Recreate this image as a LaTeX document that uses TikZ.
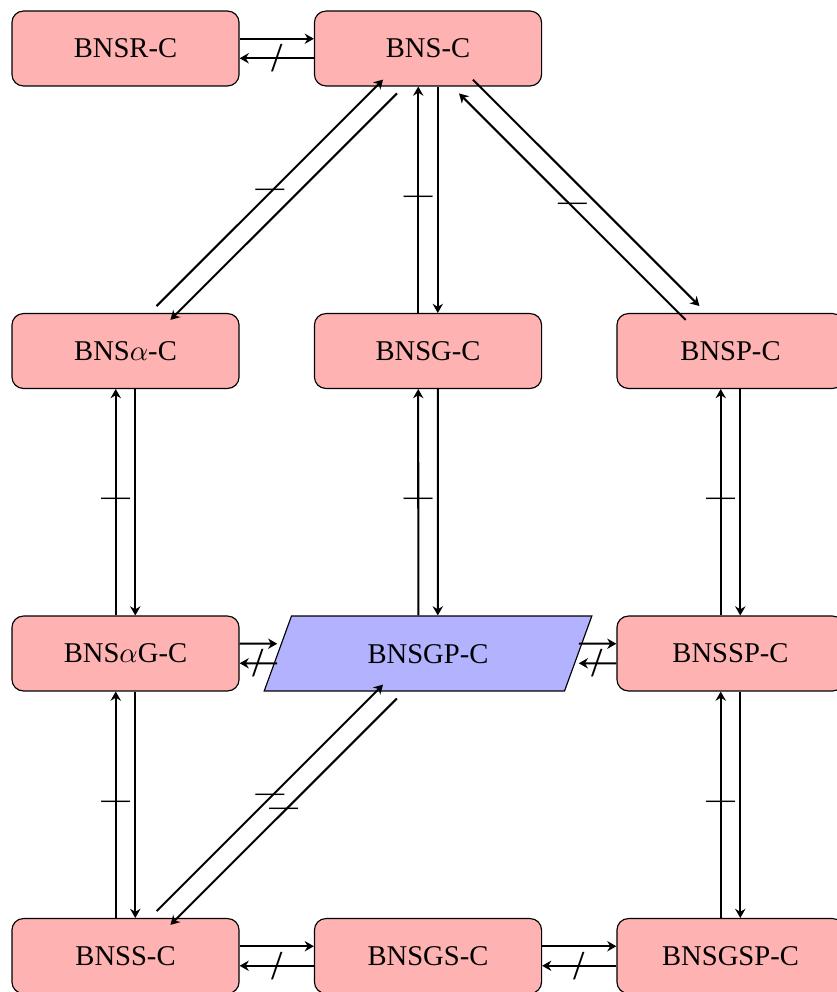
\documentclass[tikz,border=0pt]{standalone}
\usepackage{fontspec}
\setmainfont{Liberation Serif}
\usetikzlibrary{arrows.meta,shapes.geometric}
\tikzset{
  cls/.style  ={rectangle,rounded corners,draw=black,fill=red!30,
                minimum width=2.79cm,minimum height=0.92cm,inner sep=2pt},
  clsq/.style ={trapezium,trapezium left angle=70,trapezium right angle=110,
                draw=black,fill=blue!30,text height=6.9pt,text depth=0pt,
                inner xsep=26.6pt,inner ysep=9.65pt},
}

\begin{document}
\begin{tikzpicture}[
  x=3.716cm, y=3.716cm,
  >={Stealth[length=3.2pt,width=3.6pt]},
  imp/.style ={->,line width=0.7pt},
  sl/.style  ={transform canvas={xshift=-1.2mm}},
  sr/.style  ={transform canvas={xshift=1.2mm}},
  su/.style  ={transform canvas={yshift=1.2mm}},
  sd/.style  ={transform canvas={yshift=-1.2mm}},
  sul/.style ={transform canvas={shift={(-0.85mm,0.85mm)}}},
  sdr/.style ={transform canvas={shift={(0.85mm,-0.85mm)}}},
  sur/.style ={transform canvas={shift={(0.85mm,0.85mm)}}},
  sdl/.style ={transform canvas={shift={(-0.85mm,-0.85mm)}}},
  nsl/.style ={midway,inner sep=0pt,font=\Large},
  ntk/.style ={midway,inner sep=0pt},
]
\useasboundingbox (-0.4149,0.1603) rectangle (2.3488,-3.1190);
%% classes
\node[cls]  (bnsr)   at (0, 0) {BNSR-C};
\node[cls]  (bns)    at (1, 0) {BNS-C};
\node[cls]  (bnsa)   at (0,-1) {BNS$\alpha$-C};
\node[cls]  (bnsg)   at (1,-1) {BNSG-C};
\node[cls]  (bnsp)   at (2,-1) {BNSP-C};
\node[cls]  (bnsag)  at (0,-2) {BNS$\alpha$G-C};
\node[clsq] (bnsgp)  at (1,-2) {BNSGP-C};
\node[cls]  (bnssp)  at (2,-2) {BNSSP-C};
\node[cls]  (bnss)   at (0,-3) {BNSS-C};
\node[cls]  (bnsgs)  at (1,-3) {BNSGS-C};
\node[cls]  (bnsgsp) at (2,-3) {BNSGSP-C};
%% horizontal pairs
\foreach \a/\b in {bnsr/bns, bnsag/bnsgp, bnsgp/bnssp, bnss/bnsgs, bnsgs/bnsgsp}{%
  \draw[imp,su] (\a) -- (\b);
  \draw[imp,sd] (\b) -- (\a) node[nsl]{/};
}
%% vertical pairs
\foreach \a/\b in {bns/bnsg, bnsa/bnsag, bnsg/bnsgp, bnsp/bnssp, bnsag/bnss, bnssp/bnsgsp}{%
  \draw[imp,sl] (\b) -- (\a) node[ntk]{---};
  \draw[imp,sr] (\a) -- (\b);
}
%% diagonals
\draw[imp,sul] (bnsa) -- (bns) node[ntk]{---};
\draw[imp,sdr] (bns) -- (bnsa);
\draw[imp,sur] (bns) -- (bnsp);
\draw[imp,sdl] (bnsp) -- (bns) node[ntk]{---};
\draw[imp,sul] (bnss) -- (bnsgp) node[ntk]{---};
\draw[imp,sdr] (bnsgp) -- (bnss) node[ntk]{---};
\end{tikzpicture}
\end{document}
